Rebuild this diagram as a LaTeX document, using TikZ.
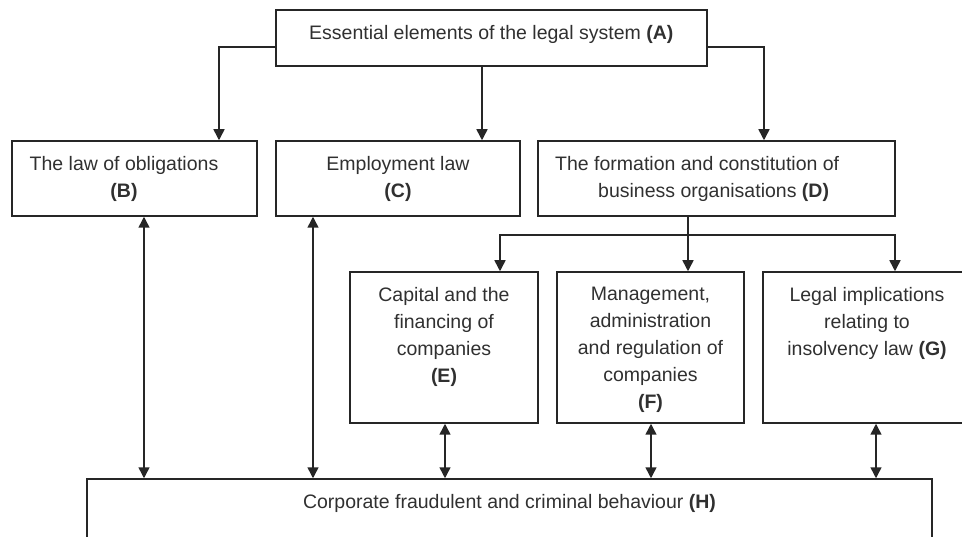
\documentclass[tikz,border=0pt]{standalone}
\usepackage{fontspec}
\setmainfont{Liberation Sans}
\usetikzlibrary{arrows.meta}
\definecolor{linec}{HTML}{262626}
\definecolor{textc}{HTML}{303030}
\begin{document}
\begin{tikzpicture}[x=1pt,y=-1pt,
  box/.style={draw=linec, line width=1.5pt, inner sep=0pt},
  txt/.style={font=\fontsize{19.5}{27}\selectfont, text=textc, inner sep=0pt, align=center},
  conn/.style={draw=linec, line width=1.5pt},
  arr/.style={conn, -{Triangle[length=11pt,width=11pt]}},
  darr/.style={conn, {Triangle[length=11pt,width=11pt]}-{Triangle[length=11pt,width=11pt]}}]
\useasboundingbox (0,0) rectangle (962,537);
\clip (0,0) rectangle (962,537);
% boxes
\node[box, minimum width=431pt, minimum height=56pt] (A) at (491.3,38) {};
\node[box, minimum width=245pt, minimum height=75pt] (B) at (134.5,178.5) {};
\node[box, minimum width=244pt, minimum height=75pt] (C) at (398,178.5) {};
\node[box, minimum width=357pt, minimum height=75pt] (D) at (716.5,178.5) {};
\node[box, minimum width=188pt, minimum height=151pt] (E) at (444,347.5) {};
\node[box, minimum width=187pt, minimum height=151pt] (F) at (650.5,347.5) {};
\node[box, minimum width=212pt, minimum height=151pt] (G) at (869,347.5) {};
\node[box, minimum width=845pt, minimum height=101pt] (H) at (509.5,529.5) {};
% texts
\node[txt, anchor=base] (tA) at (491.3,40) {Essential elements of the legal system \textbf{(A)}};
\node[txt, anchor=north] (tB) at (124,156) {The law of obligations\\\textbf{(B)}};
\node[txt, anchor=north] (tC) at (398,156) {Employment law\\\textbf{(C)}};
\node[txt, anchor=north west, align=left] (tD) at (555,156) {The formation and constitution of\\\hspace*{43pt}business organisations \textbf{(D)}};
\node[txt, anchor=north] (tE) at (444,287) {Capital and the\\financing of\\companies\\\textbf{(E)}};
\node[txt, anchor=north] (tF) at (650.5,287) {Management,\\administration\\and regulation of\\companies\\\textbf{(F)}};
\node[txt, anchor=north] (tG) at (867,287) {Legal implications\\relating to\\insolvency law \textbf{(G)}};
\node[txt, anchor=base] (tH) at (509.5,508.3) {Corporate fraudulent and criminal behaviour \textbf{(H)}};
% connectors from A
\coordinate (bin) at ([xshift=84.5pt]B.north);
\coordinate (cin) at ([xshift=84pt]C.north);
\coordinate (din) at ([xshift=47.5pt]D.north);
\draw[arr] ([yshift=-9pt]A.west) -| (bin);
\draw[arr] (cin |- A.south) -- (cin);
\draw[arr] ([yshift=-9pt]A.east) -| (din);
% connectors from D
\coordinate (J) at (688,235);
\coordinate (dout) at ([xshift=-28.5pt]D.south);
\coordinate (ein) at ([xshift=56pt]E.north);
\coordinate (fin) at ([xshift=37.5pt]F.north);
\coordinate (gin) at ([xshift=26pt]G.north);
\draw[conn] (dout) -- (J);
\draw[arr] (J) -- (fin);
\draw[arr] (J) -| (ein);
\draw[arr] (J) -| (gin);
% two-way connectors to H
\coordinate (bs) at ([xshift=9.5pt]B.south);
\coordinate (cs) at ([xshift=-85pt]C.south);
\coordinate (es) at ([xshift=1pt]E.south);
\coordinate (fs) at ([xshift=0.5pt]F.south);
\coordinate (gs) at ([xshift=7pt]G.south);
\draw[darr] (bs) -- (bs |- H.north);
\draw[darr] (cs) -- (cs |- H.north);
\draw[darr] (es) -- (es |- H.north);
\draw[darr] (fs) -- (fs |- H.north);
\draw[darr] (gs) -- (gs |- H.north);
\end{tikzpicture}
\end{document}
